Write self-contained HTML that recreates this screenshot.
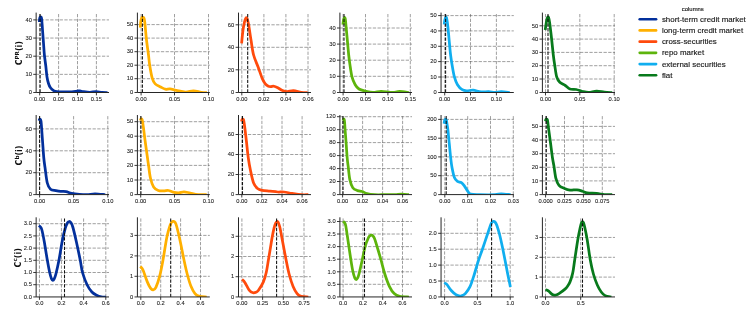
<!DOCTYPE html>
<html lang="en"><head><meta charset="utf-8"><title>KDE grid</title><style>
html,body{margin:0;padding:0;background:#fff;}
body{width:753px;height:320px;overflow:hidden;}
svg{display:block;font-family:"Liberation Sans","DejaVu Sans",sans-serif;}
.g{stroke:#5a5a5a;stroke-width:0.58;stroke-dasharray:3.3 1.4;fill:none;}
.v{stroke:#111;stroke-width:1.05;stroke-dasharray:3.3 1.4;fill:none;}
.s{stroke:#262626;stroke-width:1;fill:none;}
.t{stroke:#222;stroke-width:0.9;}
.xl{font-size:5.75px;fill:#1a1a1a;stroke:#1a1a1a;stroke-width:0.08;text-anchor:middle;}
.yl{font-size:5.75px;fill:#1a1a1a;stroke:#1a1a1a;stroke-width:0.08;text-anchor:end;}
.lab{font-family:'DejaVu Sans',sans-serif;font-size:8px;font-weight:bold;fill:#111;}
.lt{font-size:5.9px;fill:#1a1a1a;stroke:#1a1a1a;stroke-width:0.15;}
.ll{font-size:7.92px;fill:#1a1a1a;stroke:#1a1a1a;stroke-width:0.15;}
</style></head><body>
<svg width="753" height="320" viewBox="0 0 753 320">
<rect width="753" height="320" fill="#fff"/>
<g><line x1="39.70" y1="92.50" x2="39.70" y2="12.60" class="g"/><line x1="58.60" y1="92.50" x2="58.60" y2="12.60" class="g"/><line x1="77.50" y1="92.50" x2="77.50" y2="12.60" class="g"/><line x1="96.40" y1="92.50" x2="96.40" y2="12.60" class="g"/><line x1="36.15" y1="74.35" x2="109.00" y2="74.35" class="g"/><line x1="36.15" y1="56.20" x2="109.00" y2="56.20" class="g"/><line x1="36.15" y1="38.05" x2="109.00" y2="38.05" class="g"/><line x1="36.15" y1="19.90" x2="109.00" y2="19.90" class="g"/><clipPath id="c00"><rect x="36.15" y="12.60" width="72.85" height="79.90"/></clipPath><path d="M39.40 22.00 C39.43 21.50 39.47 19.82 39.60 19.00 C39.73 18.18 39.97 17.43 40.20 17.10 C40.43 16.77 40.77 16.75 41.00 17.00 C41.23 17.25 41.42 17.43 41.60 18.60 C41.78 19.77 41.93 21.93 42.10 24.00 C42.27 26.07 42.37 27.83 42.60 31.00 C42.83 34.17 43.20 39.00 43.50 43.00 C43.80 47.00 44.02 51.17 44.40 55.00 C44.78 58.83 45.37 62.33 45.80 66.00 C46.23 69.67 46.55 74.08 47.00 77.00 C47.45 79.92 47.92 81.70 48.50 83.50 C49.08 85.30 49.65 86.62 50.50 87.80 C51.35 88.98 52.52 89.95 53.60 90.60 C54.68 91.25 55.10 91.45 57.00 91.68 C58.90 91.90 62.50 91.94 65.00 91.97 C67.50 92.01 69.92 92.04 72.00 91.88 C74.08 91.71 76.17 91.16 77.50 91.00 C78.83 90.84 79.00 90.79 80.00 90.90 C81.00 91.01 81.83 91.45 83.50 91.68 C85.17 91.90 87.92 92.28 90.00 92.28 C92.08 92.28 94.00 91.64 96.00 91.68 C98.00 91.71 100.08 92.32 102.00 92.47 C103.92 92.63 106.58 92.58 107.50 92.60" fill="none" stroke="#03309c" stroke-width="2.75" stroke-linecap="butt" stroke-linejoin="round" clip-path="url(#c00)"/><line x1="40.10" y1="92.50" x2="40.10" y2="12.60" class="v"/><path d="M36.15 12.60 V92.50 H109.00" class="s"/><line x1="39.70" y1="92.50" x2="39.70" y2="95.40" class="t"/><text x="39.70" y="100.90" class="xl">0.00</text><line x1="58.60" y1="92.50" x2="58.60" y2="95.40" class="t"/><text x="58.60" y="100.90" class="xl">0.05</text><line x1="77.50" y1="92.50" x2="77.50" y2="95.40" class="t"/><text x="77.50" y="100.90" class="xl">0.10</text><line x1="96.40" y1="92.50" x2="96.40" y2="95.40" class="t"/><text x="96.40" y="100.90" class="xl">0.15</text><line x1="33.25" y1="92.50" x2="36.15" y2="92.50" class="t"/><text x="31.85" y="94.25" class="yl">0</text><line x1="33.25" y1="74.35" x2="36.15" y2="74.35" class="t"/><text x="31.85" y="76.10" class="yl">10</text><line x1="33.25" y1="56.20" x2="36.15" y2="56.20" class="t"/><text x="31.85" y="57.95" class="yl">20</text><line x1="33.25" y1="38.05" x2="36.15" y2="38.05" class="t"/><text x="31.85" y="39.80" class="yl">30</text><line x1="33.25" y1="19.90" x2="36.15" y2="19.90" class="t"/><text x="31.85" y="21.65" class="yl">40</text></g>
<g><line x1="141.10" y1="92.50" x2="141.10" y2="12.60" class="g"/><line x1="174.50" y1="92.50" x2="174.50" y2="12.60" class="g"/><line x1="208.50" y1="92.50" x2="208.50" y2="12.60" class="g"/><line x1="137.40" y1="78.70" x2="209.80" y2="78.70" class="g"/><line x1="137.40" y1="65.20" x2="209.80" y2="65.20" class="g"/><line x1="137.40" y1="51.70" x2="209.80" y2="51.70" class="g"/><line x1="137.40" y1="38.10" x2="209.80" y2="38.10" class="g"/><line x1="137.40" y1="24.60" x2="209.80" y2="24.60" class="g"/><clipPath id="c01"><rect x="137.40" y="12.60" width="72.40" height="79.90"/></clipPath><path d="M140.30 27.70 C140.37 26.75 140.47 23.63 140.70 22.00 C140.93 20.37 141.35 18.73 141.70 17.90 C142.05 17.07 142.43 16.98 142.80 17.00 C143.17 17.02 143.57 17.08 143.90 18.00 C144.23 18.92 144.37 18.83 144.80 22.50 C145.23 26.17 145.88 34.58 146.50 40.00 C147.12 45.42 147.97 50.80 148.50 55.00 C149.03 59.20 149.07 61.30 149.70 65.20 C150.33 69.10 151.38 75.28 152.30 78.40 C153.22 81.52 153.82 82.47 155.20 83.90 C156.58 85.33 158.92 86.12 160.60 87.00 C162.28 87.88 163.73 88.88 165.30 89.20 C166.87 89.52 168.18 88.72 170.00 88.90 C171.82 89.08 173.65 89.77 176.25 90.30 C178.85 90.83 182.74 91.99 185.60 92.07 C188.46 92.16 190.79 90.77 193.40 90.80 C196.01 90.83 199.00 91.98 201.25 92.28 C203.50 92.58 205.96 92.55 206.90 92.60" fill="none" stroke="#ffb000" stroke-width="2.75" stroke-linecap="butt" stroke-linejoin="round" clip-path="url(#c01)"/><line x1="142.40" y1="92.50" x2="142.40" y2="12.60" class="v"/><path d="M137.40 12.60 V92.50 H209.80" class="s"/><line x1="141.10" y1="92.50" x2="141.10" y2="95.40" class="t"/><text x="141.10" y="100.90" class="xl">0.00</text><line x1="174.50" y1="92.50" x2="174.50" y2="95.40" class="t"/><text x="174.50" y="100.90" class="xl">0.05</text><line x1="208.50" y1="92.50" x2="208.50" y2="95.40" class="t"/><text x="208.50" y="100.90" class="xl">0.10</text><line x1="134.50" y1="92.50" x2="137.40" y2="92.50" class="t"/><text x="133.10" y="94.25" class="yl">0</text><line x1="134.50" y1="78.70" x2="137.40" y2="78.70" class="t"/><text x="133.10" y="80.45" class="yl">10</text><line x1="134.50" y1="65.20" x2="137.40" y2="65.20" class="t"/><text x="133.10" y="66.95" class="yl">20</text><line x1="134.50" y1="51.70" x2="137.40" y2="51.70" class="t"/><text x="133.10" y="53.45" class="yl">30</text><line x1="134.50" y1="38.10" x2="137.40" y2="38.10" class="t"/><text x="133.10" y="39.85" class="yl">40</text><line x1="134.50" y1="24.60" x2="137.40" y2="24.60" class="t"/><text x="133.10" y="26.35" class="yl">50</text></g>
<g><line x1="241.80" y1="92.50" x2="241.80" y2="12.60" class="g"/><line x1="263.90" y1="92.50" x2="263.90" y2="12.60" class="g"/><line x1="285.90" y1="92.50" x2="285.90" y2="12.60" class="g"/><line x1="308.00" y1="92.50" x2="308.00" y2="12.60" class="g"/><line x1="238.50" y1="69.80" x2="311.00" y2="69.80" class="g"/><line x1="238.50" y1="47.30" x2="311.00" y2="47.30" class="g"/><line x1="238.50" y1="24.80" x2="311.00" y2="24.80" class="g"/><clipPath id="c02"><rect x="238.50" y="12.60" width="72.50" height="79.90"/></clipPath><path d="M241.60 43.30 C241.83 41.08 242.52 33.55 243.00 30.00 C243.48 26.45 244.03 23.97 244.50 22.00 C244.97 20.03 245.38 18.80 245.80 18.20 C246.22 17.60 246.53 17.35 247.00 18.40 C247.47 19.45 247.93 20.90 248.60 24.50 C249.27 28.10 250.17 34.92 251.00 40.00 C251.83 45.08 252.38 50.42 253.60 55.00 C254.82 59.58 256.87 63.60 258.30 67.50 C259.73 71.40 261.03 75.67 262.20 78.40 C263.37 81.13 264.27 82.59 265.30 83.90 C266.33 85.21 267.45 85.80 268.40 86.25 C269.35 86.70 270.08 86.60 271.00 86.60 C271.92 86.60 272.77 86.05 273.90 86.25 C275.03 86.45 276.37 87.08 277.80 87.80 C279.23 88.52 280.93 89.95 282.50 90.60 C284.07 91.25 285.38 91.68 287.20 91.68 C289.02 91.68 291.06 90.50 293.40 90.60 C295.74 90.70 298.90 91.94 301.25 92.28 C303.60 92.61 306.46 92.55 307.50 92.60" fill="none" stroke="#ff4a0c" stroke-width="2.75" stroke-linecap="butt" stroke-linejoin="round" clip-path="url(#c02)"/><line x1="247.70" y1="92.50" x2="247.70" y2="12.60" class="v"/><path d="M238.50 12.60 V92.50 H311.00" class="s"/><line x1="241.80" y1="92.50" x2="241.80" y2="95.40" class="t"/><text x="241.80" y="100.90" class="xl">0.00</text><line x1="263.90" y1="92.50" x2="263.90" y2="95.40" class="t"/><text x="263.90" y="100.90" class="xl">0.02</text><line x1="285.90" y1="92.50" x2="285.90" y2="95.40" class="t"/><text x="285.90" y="100.90" class="xl">0.04</text><line x1="308.00" y1="92.50" x2="308.00" y2="95.40" class="t"/><text x="308.00" y="100.90" class="xl">0.06</text><line x1="235.60" y1="92.50" x2="238.50" y2="92.50" class="t"/><text x="234.20" y="94.25" class="yl">0</text><line x1="235.60" y1="69.80" x2="238.50" y2="69.80" class="t"/><text x="234.20" y="71.55" class="yl">20</text><line x1="235.60" y1="47.30" x2="238.50" y2="47.30" class="t"/><text x="234.20" y="49.05" class="yl">40</text><line x1="235.60" y1="24.80" x2="238.50" y2="24.80" class="t"/><text x="234.20" y="26.55" class="yl">60</text></g>
<g><line x1="343.10" y1="92.50" x2="343.10" y2="12.60" class="g"/><line x1="365.50" y1="92.50" x2="365.50" y2="12.60" class="g"/><line x1="387.90" y1="92.50" x2="387.90" y2="12.60" class="g"/><line x1="410.30" y1="92.50" x2="410.30" y2="12.60" class="g"/><line x1="339.90" y1="76.30" x2="412.00" y2="76.30" class="g"/><line x1="339.90" y1="60.20" x2="412.00" y2="60.20" class="g"/><line x1="339.90" y1="44.10" x2="412.00" y2="44.10" class="g"/><line x1="339.90" y1="28.00" x2="412.00" y2="28.00" class="g"/><clipPath id="c03"><rect x="339.90" y="12.60" width="72.10" height="79.90"/></clipPath><path d="M342.90 24.60 C343.00 23.83 343.25 21.17 343.50 20.00 C343.75 18.83 344.10 17.77 344.40 17.60 C344.70 17.43 345.00 17.27 345.30 19.00 C345.60 20.73 345.83 24.17 346.20 28.00 C346.57 31.83 347.08 37.50 347.50 42.00 C347.92 46.50 348.30 51.27 348.70 55.00 C349.10 58.73 349.35 60.75 349.90 64.40 C350.45 68.05 351.12 73.52 352.00 76.90 C352.88 80.28 354.03 82.68 355.20 84.70 C356.37 86.72 357.32 87.93 359.00 89.00 C360.68 90.07 362.97 90.52 365.30 91.10 C367.63 91.68 370.38 92.45 373.00 92.47 C375.62 92.50 378.38 91.34 381.00 91.28 C383.62 91.21 386.68 91.87 388.75 92.07 C390.82 92.27 391.57 92.57 393.40 92.47 C395.22 92.38 397.10 91.45 399.70 91.47 C402.30 91.50 407.45 92.41 409.00 92.60" fill="none" stroke="#5db40c" stroke-width="2.75" stroke-linecap="butt" stroke-linejoin="round" clip-path="url(#c03)"/><line x1="344.00" y1="92.50" x2="344.00" y2="12.60" class="v"/><path d="M339.90 12.60 V92.50 H412.00" class="s"/><line x1="343.10" y1="92.50" x2="343.10" y2="95.40" class="t"/><text x="343.10" y="100.90" class="xl">0.00</text><line x1="365.50" y1="92.50" x2="365.50" y2="95.40" class="t"/><text x="365.50" y="100.90" class="xl">0.05</text><line x1="387.90" y1="92.50" x2="387.90" y2="95.40" class="t"/><text x="387.90" y="100.90" class="xl">0.10</text><line x1="410.30" y1="92.50" x2="410.30" y2="95.40" class="t"/><text x="410.30" y="100.90" class="xl">0.15</text><line x1="337.00" y1="92.50" x2="339.90" y2="92.50" class="t"/><text x="335.60" y="94.25" class="yl">0</text><line x1="337.00" y1="76.30" x2="339.90" y2="76.30" class="t"/><text x="335.60" y="78.05" class="yl">10</text><line x1="337.00" y1="60.20" x2="339.90" y2="60.20" class="t"/><text x="335.60" y="61.95" class="yl">20</text><line x1="337.00" y1="44.10" x2="339.90" y2="44.10" class="t"/><text x="335.60" y="45.85" class="yl">30</text><line x1="337.00" y1="28.00" x2="339.90" y2="28.00" class="t"/><text x="335.60" y="29.75" class="yl">40</text></g>
<g><line x1="444.70" y1="92.50" x2="444.70" y2="12.60" class="g"/><line x1="470.50" y1="92.50" x2="470.50" y2="12.60" class="g"/><line x1="496.40" y1="92.50" x2="496.40" y2="12.60" class="g"/><line x1="441.05" y1="77.00" x2="513.80" y2="77.00" class="g"/><line x1="441.05" y1="61.60" x2="513.80" y2="61.60" class="g"/><line x1="441.05" y1="46.30" x2="513.80" y2="46.30" class="g"/><line x1="441.05" y1="30.90" x2="513.80" y2="30.90" class="g"/><line x1="441.05" y1="15.60" x2="513.80" y2="15.60" class="g"/><clipPath id="c04"><rect x="441.05" y="12.60" width="72.75" height="79.90"/></clipPath><path d="M444.20 24.50 C444.30 23.75 444.53 21.20 444.80 20.00 C445.07 18.80 445.47 17.47 445.80 17.30 C446.13 17.13 446.43 17.22 446.80 19.00 C447.17 20.78 447.55 23.83 448.00 28.00 C448.45 32.17 449.07 39.50 449.50 44.00 C449.93 48.50 450.18 51.60 450.60 55.00 C451.02 58.40 451.37 60.75 452.00 64.40 C452.63 68.05 453.48 73.52 454.40 76.90 C455.32 80.28 456.20 82.57 457.50 84.70 C458.80 86.83 460.63 88.68 462.20 89.70 C463.77 90.72 465.08 90.72 466.90 90.80 C468.72 90.88 470.75 90.02 473.10 90.20 C475.45 90.38 478.39 91.63 481.00 91.88 C483.61 92.12 486.42 91.58 488.75 91.68 C491.08 91.78 492.92 92.47 495.00 92.47 C497.08 92.47 498.78 91.65 501.25 91.68 C503.72 91.70 508.38 92.45 509.80 92.60" fill="none" stroke="#10aeef" stroke-width="2.75" stroke-linecap="butt" stroke-linejoin="round" clip-path="url(#c04)"/><line x1="445.60" y1="92.50" x2="445.60" y2="12.60" class="v"/><path d="M441.05 12.60 V92.50 H513.80" class="s"/><line x1="444.70" y1="92.50" x2="444.70" y2="95.40" class="t"/><text x="444.70" y="100.90" class="xl">0.00</text><line x1="470.50" y1="92.50" x2="470.50" y2="95.40" class="t"/><text x="470.50" y="100.90" class="xl">0.05</text><line x1="496.40" y1="92.50" x2="496.40" y2="95.40" class="t"/><text x="496.40" y="100.90" class="xl">0.10</text><line x1="438.15" y1="92.50" x2="441.05" y2="92.50" class="t"/><text x="436.75" y="94.25" class="yl">0</text><line x1="438.15" y1="77.00" x2="441.05" y2="77.00" class="t"/><text x="436.75" y="78.75" class="yl">10</text><line x1="438.15" y1="61.60" x2="441.05" y2="61.60" class="t"/><text x="436.75" y="63.35" class="yl">20</text><line x1="438.15" y1="46.30" x2="441.05" y2="46.30" class="t"/><text x="436.75" y="48.05" class="yl">30</text><line x1="438.15" y1="30.90" x2="441.05" y2="30.90" class="t"/><text x="436.75" y="32.65" class="yl">40</text><line x1="438.15" y1="15.60" x2="441.05" y2="15.60" class="t"/><text x="436.75" y="17.35" class="yl">50</text></g>
<g><line x1="545.50" y1="92.50" x2="545.50" y2="12.60" class="g"/><line x1="579.80" y1="92.50" x2="579.80" y2="12.60" class="g"/><line x1="614.20" y1="92.50" x2="614.20" y2="12.60" class="g"/><line x1="542.40" y1="79.00" x2="615.00" y2="79.00" class="g"/><line x1="542.40" y1="65.70" x2="615.00" y2="65.70" class="g"/><line x1="542.40" y1="52.40" x2="615.00" y2="52.40" class="g"/><line x1="542.40" y1="39.10" x2="615.00" y2="39.10" class="g"/><line x1="542.40" y1="25.80" x2="615.00" y2="25.80" class="g"/><clipPath id="c05"><rect x="542.40" y="12.60" width="72.60" height="79.90"/></clipPath><path d="M545.20 30.00 C545.40 28.67 546.02 24.08 546.40 22.00 C546.78 19.92 547.13 18.25 547.50 17.50 C547.87 16.75 548.25 16.67 548.60 17.50 C548.95 18.33 549.12 19.08 549.60 22.50 C550.08 25.92 550.88 32.58 551.50 38.00 C552.12 43.42 552.78 50.60 553.30 55.00 C553.82 59.40 554.03 60.75 554.60 64.40 C555.17 68.05 555.83 73.92 556.70 76.90 C557.57 79.88 558.37 80.87 559.80 82.30 C561.23 83.73 563.60 84.38 565.30 85.50 C567.00 86.62 568.17 88.33 570.00 89.00 C571.83 89.67 574.17 89.09 576.25 89.50 C578.33 89.91 580.42 90.98 582.50 91.47 C584.58 91.97 586.40 92.54 588.75 92.47 C591.10 92.41 593.99 91.17 596.60 91.10 C599.21 91.03 601.80 91.82 604.40 92.07 C607.00 92.32 610.90 92.51 612.20 92.60" fill="none" stroke="#087a1c" stroke-width="2.75" stroke-linecap="butt" stroke-linejoin="round" clip-path="url(#c05)"/><line x1="548.00" y1="92.50" x2="548.00" y2="12.60" class="v"/><path d="M542.40 12.60 V92.50 H615.00" class="s"/><line x1="545.50" y1="92.50" x2="545.50" y2="95.40" class="t"/><text x="545.50" y="100.90" class="xl">0.00</text><line x1="579.80" y1="92.50" x2="579.80" y2="95.40" class="t"/><text x="579.80" y="100.90" class="xl">0.05</text><line x1="614.20" y1="92.50" x2="614.20" y2="95.40" class="t"/><text x="614.20" y="100.90" class="xl">0.10</text><line x1="539.50" y1="92.50" x2="542.40" y2="92.50" class="t"/><text x="538.10" y="94.25" class="yl">0</text><line x1="539.50" y1="79.00" x2="542.40" y2="79.00" class="t"/><text x="538.10" y="80.75" class="yl">10</text><line x1="539.50" y1="65.70" x2="542.40" y2="65.70" class="t"/><text x="538.10" y="67.45" class="yl">20</text><line x1="539.50" y1="52.40" x2="542.40" y2="52.40" class="t"/><text x="538.10" y="54.15" class="yl">30</text><line x1="539.50" y1="39.10" x2="542.40" y2="39.10" class="t"/><text x="538.10" y="40.85" class="yl">40</text><line x1="539.50" y1="25.80" x2="542.40" y2="25.80" class="t"/><text x="538.10" y="27.55" class="yl">50</text></g>
<g><line x1="39.60" y1="194.60" x2="39.60" y2="115.00" class="g"/><line x1="73.60" y1="194.60" x2="73.60" y2="115.00" class="g"/><line x1="107.80" y1="194.60" x2="107.80" y2="115.00" class="g"/><line x1="36.15" y1="172.70" x2="109.00" y2="172.70" class="g"/><line x1="36.15" y1="150.80" x2="109.00" y2="150.80" class="g"/><line x1="36.15" y1="128.90" x2="109.00" y2="128.90" class="g"/><clipPath id="c10"><rect x="36.15" y="115.00" width="72.85" height="79.60"/></clipPath><path d="M39.00 120.80 C39.08 120.57 39.28 119.65 39.50 119.40 C39.72 119.15 40.05 119.00 40.30 119.30 C40.55 119.60 40.78 119.75 41.00 121.20 C41.22 122.65 41.33 124.53 41.60 128.00 C41.87 131.47 42.23 137.00 42.60 142.00 C42.97 147.00 43.40 153.77 43.80 158.00 C44.20 162.23 44.42 163.23 45.00 167.40 C45.58 171.57 46.38 179.36 47.30 183.00 C48.22 186.64 49.07 187.98 50.50 189.25 C51.93 190.52 54.22 190.24 55.90 190.60 C57.58 190.96 58.90 191.23 60.60 191.40 C62.30 191.57 64.27 191.27 66.10 191.60 C67.93 191.93 69.38 192.91 71.60 193.38 C73.82 193.84 76.80 194.15 79.40 194.38 C82.00 194.60 84.60 194.80 87.20 194.70 C89.80 194.60 92.00 193.78 95.00 193.78 C98.00 193.78 103.50 194.55 105.20 194.70" fill="none" stroke="#03309c" stroke-width="2.75" stroke-linecap="butt" stroke-linejoin="round" clip-path="url(#c10)"/><line x1="39.60" y1="194.60" x2="39.60" y2="115.00" class="v"/><path d="M36.15 115.00 V194.60 H109.00" class="s"/><line x1="39.60" y1="194.60" x2="39.60" y2="197.50" class="t"/><text x="39.60" y="203.00" class="xl">0.00</text><line x1="73.60" y1="194.60" x2="73.60" y2="197.50" class="t"/><text x="73.60" y="203.00" class="xl">0.05</text><line x1="107.80" y1="194.60" x2="107.80" y2="197.50" class="t"/><text x="107.80" y="203.00" class="xl">0.10</text><line x1="33.25" y1="194.60" x2="36.15" y2="194.60" class="t"/><text x="31.85" y="196.35" class="yl">0</text><line x1="33.25" y1="172.70" x2="36.15" y2="172.70" class="t"/><text x="31.85" y="174.45" class="yl">20</text><line x1="33.25" y1="150.80" x2="36.15" y2="150.80" class="t"/><text x="31.85" y="152.55" class="yl">40</text><line x1="33.25" y1="128.90" x2="36.15" y2="128.90" class="t"/><text x="31.85" y="130.65" class="yl">60</text></g>
<g><line x1="140.70" y1="194.60" x2="140.70" y2="115.00" class="g"/><line x1="174.50" y1="194.60" x2="174.50" y2="115.00" class="g"/><line x1="208.30" y1="194.60" x2="208.30" y2="115.00" class="g"/><line x1="137.40" y1="180.00" x2="209.80" y2="180.00" class="g"/><line x1="137.40" y1="165.40" x2="209.80" y2="165.40" class="g"/><line x1="137.40" y1="150.80" x2="209.80" y2="150.80" class="g"/><line x1="137.40" y1="136.20" x2="209.80" y2="136.20" class="g"/><line x1="137.40" y1="121.70" x2="209.80" y2="121.70" class="g"/><clipPath id="c11"><rect x="137.40" y="115.00" width="72.40" height="79.60"/></clipPath><path d="M140.50 120.60 C140.55 120.38 140.63 119.58 140.80 119.30 C140.97 119.02 141.27 118.82 141.50 118.90 C141.73 118.98 141.97 118.95 142.20 119.80 C142.43 120.65 142.64 122.30 142.90 124.00 C143.16 125.70 143.40 127.33 143.75 130.00 C144.10 132.67 144.38 135.33 145.00 140.00 C145.62 144.67 146.90 153.70 147.50 158.00 C148.10 162.30 148.10 162.42 148.60 165.80 C149.10 169.18 149.67 174.78 150.50 178.30 C151.33 181.82 152.30 184.87 153.60 186.90 C154.90 188.93 156.61 189.83 158.30 190.50 C159.99 191.17 162.07 190.90 163.75 190.90 C165.43 190.90 166.84 190.30 168.40 190.50 C169.96 190.70 171.40 191.72 173.10 192.10 C174.80 192.48 176.78 192.85 178.60 192.80 C180.42 192.75 182.05 191.75 184.00 191.80 C185.95 191.85 187.95 192.64 190.30 193.10 C192.65 193.56 195.37 194.31 198.10 194.58 C200.83 194.84 205.27 194.68 206.70 194.70" fill="none" stroke="#ffb000" stroke-width="2.75" stroke-linecap="butt" stroke-linejoin="round" clip-path="url(#c11)"/><line x1="140.90" y1="194.60" x2="140.90" y2="115.00" class="v"/><path d="M137.40 115.00 V194.60 H209.80" class="s"/><line x1="140.70" y1="194.60" x2="140.70" y2="197.50" class="t"/><text x="140.70" y="203.00" class="xl">0.00</text><line x1="174.50" y1="194.60" x2="174.50" y2="197.50" class="t"/><text x="174.50" y="203.00" class="xl">0.05</text><line x1="208.30" y1="194.60" x2="208.30" y2="197.50" class="t"/><text x="208.30" y="203.00" class="xl">0.10</text><line x1="134.50" y1="194.60" x2="137.40" y2="194.60" class="t"/><text x="133.10" y="196.35" class="yl">0</text><line x1="134.50" y1="180.00" x2="137.40" y2="180.00" class="t"/><text x="133.10" y="181.75" class="yl">10</text><line x1="134.50" y1="165.40" x2="137.40" y2="165.40" class="t"/><text x="133.10" y="167.15" class="yl">20</text><line x1="134.50" y1="150.80" x2="137.40" y2="150.80" class="t"/><text x="133.10" y="152.55" class="yl">30</text><line x1="134.50" y1="136.20" x2="137.40" y2="136.20" class="t"/><text x="133.10" y="137.95" class="yl">40</text><line x1="134.50" y1="121.70" x2="137.40" y2="121.70" class="t"/><text x="133.10" y="123.45" class="yl">50</text></g>
<g><line x1="241.80" y1="194.60" x2="241.80" y2="115.00" class="g"/><line x1="261.90" y1="194.60" x2="261.90" y2="115.00" class="g"/><line x1="282.00" y1="194.60" x2="282.00" y2="115.00" class="g"/><line x1="302.10" y1="194.60" x2="302.10" y2="115.00" class="g"/><line x1="238.50" y1="174.50" x2="311.00" y2="174.50" class="g"/><line x1="238.50" y1="154.50" x2="311.00" y2="154.50" class="g"/><line x1="238.50" y1="134.50" x2="311.00" y2="134.50" class="g"/><clipPath id="c12"><rect x="238.50" y="115.00" width="72.50" height="79.60"/></clipPath><path d="M241.60 121.40 C241.65 121.13 241.70 120.18 241.90 119.80 C242.10 119.42 242.52 119.08 242.80 119.10 C243.08 119.12 243.35 119.08 243.60 119.90 C243.85 120.72 244.05 122.32 244.30 124.00 C244.55 125.68 244.73 127.00 245.10 130.00 C245.47 133.00 245.97 137.33 246.50 142.00 C247.03 146.67 247.63 153.25 248.30 158.00 C248.97 162.75 249.62 166.33 250.50 170.50 C251.38 174.67 252.43 180.00 253.60 183.00 C254.77 186.00 256.07 187.27 257.50 188.50 C258.93 189.73 260.12 189.95 262.20 190.40 C264.28 190.85 267.40 190.93 270.00 191.20 C272.60 191.47 275.47 191.87 277.80 192.00 C280.13 192.13 281.65 191.77 284.00 192.00 C286.35 192.23 289.02 192.93 291.90 193.38 C294.77 193.83 298.52 194.48 301.25 194.70 C303.98 194.92 307.12 194.70 308.30 194.70" fill="none" stroke="#ff4a0c" stroke-width="2.75" stroke-linecap="butt" stroke-linejoin="round" clip-path="url(#c12)"/><line x1="242.50" y1="194.60" x2="242.50" y2="115.00" class="v"/><path d="M238.50 115.00 V194.60 H311.00" class="s"/><line x1="241.80" y1="194.60" x2="241.80" y2="197.50" class="t"/><text x="241.80" y="203.00" class="xl">0.00</text><line x1="261.90" y1="194.60" x2="261.90" y2="197.50" class="t"/><text x="261.90" y="203.00" class="xl">0.02</text><line x1="282.00" y1="194.60" x2="282.00" y2="197.50" class="t"/><text x="282.00" y="203.00" class="xl">0.04</text><line x1="302.10" y1="194.60" x2="302.10" y2="197.50" class="t"/><text x="302.10" y="203.00" class="xl">0.06</text><line x1="235.60" y1="194.60" x2="238.50" y2="194.60" class="t"/><text x="234.20" y="196.35" class="yl">0</text><line x1="235.60" y1="174.50" x2="238.50" y2="174.50" class="t"/><text x="234.20" y="176.25" class="yl">20</text><line x1="235.60" y1="154.50" x2="238.50" y2="154.50" class="t"/><text x="234.20" y="156.25" class="yl">40</text><line x1="235.60" y1="134.50" x2="238.50" y2="134.50" class="t"/><text x="234.20" y="136.25" class="yl">60</text></g>
<g><line x1="342.60" y1="194.60" x2="342.60" y2="115.00" class="g"/><line x1="362.60" y1="194.60" x2="362.60" y2="115.00" class="g"/><line x1="382.60" y1="194.60" x2="382.60" y2="115.00" class="g"/><line x1="402.60" y1="194.60" x2="402.60" y2="115.00" class="g"/><line x1="339.90" y1="181.50" x2="412.00" y2="181.50" class="g"/><line x1="339.90" y1="168.60" x2="412.00" y2="168.60" class="g"/><line x1="339.90" y1="155.60" x2="412.00" y2="155.60" class="g"/><line x1="339.90" y1="142.60" x2="412.00" y2="142.60" class="g"/><line x1="339.90" y1="129.70" x2="412.00" y2="129.70" class="g"/><line x1="339.90" y1="116.70" x2="412.00" y2="116.70" class="g"/><clipPath id="c13"><rect x="339.90" y="115.00" width="72.10" height="79.60"/></clipPath><path d="M343.20 120.40 C343.23 120.22 343.28 119.53 343.40 119.30 C343.52 119.07 343.73 118.80 343.90 119.00 C344.07 119.20 344.25 119.50 344.40 120.50 C344.55 121.50 344.68 123.42 344.80 125.00 C344.92 126.58 344.92 127.50 345.10 130.00 C345.28 132.50 345.55 135.33 345.90 140.00 C346.25 144.67 346.80 153.43 347.20 158.00 C347.60 162.57 347.85 163.75 348.30 167.40 C348.75 171.05 349.15 176.52 349.90 179.90 C350.65 183.28 351.53 185.92 352.80 187.70 C354.07 189.48 355.93 189.97 357.50 190.60 C359.07 191.23 360.63 191.00 362.20 191.50 C363.77 192.00 364.82 193.04 366.90 193.58 C368.98 194.11 371.58 194.51 374.70 194.70 C377.82 194.89 382.22 194.70 385.60 194.70 C388.98 194.70 392.39 194.79 395.00 194.70 C397.61 194.61 398.92 194.17 401.25 194.17 C403.58 194.17 407.71 194.61 409.00 194.70" fill="none" stroke="#5db40c" stroke-width="2.75" stroke-linecap="butt" stroke-linejoin="round" clip-path="url(#c13)"/><line x1="343.00" y1="194.60" x2="343.00" y2="115.00" class="v"/><path d="M339.90 115.00 V194.60 H412.00" class="s"/><line x1="342.60" y1="194.60" x2="342.60" y2="197.50" class="t"/><text x="342.60" y="203.00" class="xl">0.00</text><line x1="362.60" y1="194.60" x2="362.60" y2="197.50" class="t"/><text x="362.60" y="203.00" class="xl">0.02</text><line x1="382.60" y1="194.60" x2="382.60" y2="197.50" class="t"/><text x="382.60" y="203.00" class="xl">0.04</text><line x1="402.60" y1="194.60" x2="402.60" y2="197.50" class="t"/><text x="402.60" y="203.00" class="xl">0.06</text><line x1="337.00" y1="194.60" x2="339.90" y2="194.60" class="t"/><text x="335.60" y="196.35" class="yl">0</text><line x1="337.00" y1="181.50" x2="339.90" y2="181.50" class="t"/><text x="335.60" y="183.25" class="yl">20</text><line x1="337.00" y1="168.60" x2="339.90" y2="168.60" class="t"/><text x="335.60" y="170.35" class="yl">40</text><line x1="337.00" y1="155.60" x2="339.90" y2="155.60" class="t"/><text x="335.60" y="157.35" class="yl">60</text><line x1="337.00" y1="142.60" x2="339.90" y2="142.60" class="t"/><text x="335.60" y="144.35" class="yl">80</text><line x1="337.00" y1="129.70" x2="339.90" y2="129.70" class="t"/><text x="335.60" y="131.45" class="yl">100</text><line x1="337.00" y1="116.70" x2="339.90" y2="116.70" class="t"/><text x="335.60" y="118.45" class="yl">120</text></g>
<g><line x1="444.80" y1="194.60" x2="444.80" y2="115.00" class="g"/><line x1="467.70" y1="194.60" x2="467.70" y2="115.00" class="g"/><line x1="490.50" y1="194.60" x2="490.50" y2="115.00" class="g"/><line x1="513.30" y1="194.60" x2="513.30" y2="115.00" class="g"/><line x1="441.05" y1="175.70" x2="513.80" y2="175.70" class="g"/><line x1="441.05" y1="156.90" x2="513.80" y2="156.90" class="g"/><line x1="441.05" y1="138.20" x2="513.80" y2="138.20" class="g"/><line x1="441.05" y1="119.40" x2="513.80" y2="119.40" class="g"/><clipPath id="c14"><rect x="441.05" y="115.00" width="72.75" height="79.60"/></clipPath><path d="M444.10 123.80 C444.17 123.30 444.28 121.55 444.50 120.80 C444.72 120.05 445.10 119.43 445.40 119.30 C445.70 119.17 446.03 119.22 446.30 120.00 C446.57 120.78 446.73 122.33 447.00 124.00 C447.27 125.67 447.52 126.67 447.90 130.00 C448.28 133.33 448.83 139.33 449.30 144.00 C449.77 148.67 450.25 154.10 450.70 158.00 C451.15 161.90 451.38 164.15 452.00 167.40 C452.62 170.65 453.48 175.17 454.40 177.50 C455.32 179.83 456.33 180.55 457.50 181.40 C458.67 182.25 460.23 181.82 461.40 182.60 C462.57 183.38 463.45 184.68 464.50 186.10 C465.55 187.52 466.65 189.75 467.70 191.10 C468.75 192.45 468.85 193.57 470.80 194.17 C472.75 194.77 475.37 194.61 479.40 194.70 C483.43 194.79 491.36 194.85 495.00 194.70 C498.64 194.55 498.65 193.78 501.25 193.78 C503.85 193.78 509.04 194.55 510.60 194.70" fill="none" stroke="#10aeef" stroke-width="2.75" stroke-linecap="butt" stroke-linejoin="round" clip-path="url(#c14)"/><line x1="446.20" y1="194.60" x2="446.20" y2="115.00" class="v"/><path d="M441.05 115.00 V194.60 H513.80" class="s"/><line x1="444.80" y1="194.60" x2="444.80" y2="197.50" class="t"/><text x="444.80" y="203.00" class="xl">0.00</text><line x1="467.70" y1="194.60" x2="467.70" y2="197.50" class="t"/><text x="467.70" y="203.00" class="xl">0.01</text><line x1="490.50" y1="194.60" x2="490.50" y2="197.50" class="t"/><text x="490.50" y="203.00" class="xl">0.02</text><line x1="513.30" y1="194.60" x2="513.30" y2="197.50" class="t"/><text x="513.30" y="203.00" class="xl">0.03</text><line x1="438.15" y1="194.60" x2="441.05" y2="194.60" class="t"/><text x="436.75" y="196.35" class="yl">0</text><line x1="438.15" y1="175.70" x2="441.05" y2="175.70" class="t"/><text x="436.75" y="177.45" class="yl">50</text><line x1="438.15" y1="156.90" x2="441.05" y2="156.90" class="t"/><text x="436.75" y="158.65" class="yl">100</text><line x1="438.15" y1="138.20" x2="441.05" y2="138.20" class="t"/><text x="436.75" y="139.95" class="yl">150</text><line x1="438.15" y1="119.40" x2="441.05" y2="119.40" class="t"/><text x="436.75" y="121.15" class="yl">200</text></g>
<g><line x1="545.60" y1="194.60" x2="545.60" y2="115.00" class="g"/><line x1="564.50" y1="194.60" x2="564.50" y2="115.00" class="g"/><line x1="583.40" y1="194.60" x2="583.40" y2="115.00" class="g"/><line x1="602.30" y1="194.60" x2="602.30" y2="115.00" class="g"/><line x1="542.40" y1="180.90" x2="615.00" y2="180.90" class="g"/><line x1="542.40" y1="167.30" x2="615.00" y2="167.30" class="g"/><line x1="542.40" y1="153.70" x2="615.00" y2="153.70" class="g"/><line x1="542.40" y1="140.00" x2="615.00" y2="140.00" class="g"/><line x1="542.40" y1="126.40" x2="615.00" y2="126.40" class="g"/><clipPath id="c15"><rect x="542.40" y="115.00" width="72.60" height="79.60"/></clipPath><path d="M545.50 121.30 C545.55 121.02 545.62 119.97 545.80 119.60 C545.98 119.23 546.33 119.05 546.60 119.10 C546.87 119.15 547.17 119.08 547.40 119.90 C547.63 120.72 547.77 122.32 548.00 124.00 C548.23 125.68 548.35 127.00 548.75 130.00 C549.15 133.00 549.77 137.33 550.40 142.00 C551.02 146.67 551.92 154.03 552.50 158.00 C553.08 161.97 553.33 162.42 553.90 165.80 C554.47 169.18 555.05 175.05 555.90 178.30 C556.75 181.55 557.57 183.60 559.00 185.30 C560.43 187.00 562.67 187.70 564.50 188.50 C566.33 189.30 567.92 189.88 570.00 190.10 C572.08 190.32 574.92 189.62 577.00 189.80 C579.08 189.98 580.80 190.68 582.50 191.20 C584.20 191.72 584.85 192.54 587.20 192.90 C589.55 193.26 593.73 193.10 596.60 193.38 C599.47 193.65 601.80 194.35 604.40 194.58 C607.00 194.80 610.90 194.68 612.20 194.70" fill="none" stroke="#087a1c" stroke-width="2.75" stroke-linecap="butt" stroke-linejoin="round" clip-path="url(#c15)"/><line x1="546.30" y1="194.60" x2="546.30" y2="115.00" class="v"/><path d="M542.40 115.00 V194.60 H615.00" class="s"/><line x1="545.60" y1="194.60" x2="545.60" y2="197.50" class="t"/><text x="545.60" y="203.00" class="xl">0.000</text><line x1="564.50" y1="194.60" x2="564.50" y2="197.50" class="t"/><text x="564.50" y="203.00" class="xl">0.025</text><line x1="583.40" y1="194.60" x2="583.40" y2="197.50" class="t"/><text x="583.40" y="203.00" class="xl">0.050</text><line x1="602.30" y1="194.60" x2="602.30" y2="197.50" class="t"/><text x="602.30" y="203.00" class="xl">0.075</text><line x1="539.50" y1="194.60" x2="542.40" y2="194.60" class="t"/><text x="538.10" y="196.35" class="yl">0</text><line x1="539.50" y1="180.90" x2="542.40" y2="180.90" class="t"/><text x="538.10" y="182.65" class="yl">10</text><line x1="539.50" y1="167.30" x2="542.40" y2="167.30" class="t"/><text x="538.10" y="169.05" class="yl">20</text><line x1="539.50" y1="153.70" x2="542.40" y2="153.70" class="t"/><text x="538.10" y="155.45" class="yl">30</text><line x1="539.50" y1="140.00" x2="542.40" y2="140.00" class="t"/><text x="538.10" y="141.75" class="yl">40</text><line x1="539.50" y1="126.40" x2="542.40" y2="126.40" class="t"/><text x="538.10" y="128.15" class="yl">50</text></g>
<g><line x1="39.45" y1="296.95" x2="39.45" y2="217.30" class="g"/><line x1="61.45" y1="296.95" x2="61.45" y2="217.30" class="g"/><line x1="83.60" y1="296.95" x2="83.60" y2="217.30" class="g"/><line x1="105.80" y1="296.95" x2="105.80" y2="217.30" class="g"/><line x1="36.15" y1="284.70" x2="109.00" y2="284.70" class="g"/><line x1="36.15" y1="272.50" x2="109.00" y2="272.50" class="g"/><line x1="36.15" y1="260.30" x2="109.00" y2="260.30" class="g"/><line x1="36.15" y1="248.10" x2="109.00" y2="248.10" class="g"/><line x1="36.15" y1="235.90" x2="109.00" y2="235.90" class="g"/><line x1="36.15" y1="223.70" x2="109.00" y2="223.70" class="g"/><clipPath id="c20"><rect x="36.15" y="217.30" width="72.85" height="79.65"/></clipPath><path d="M38.90 225.60 C39.17 225.83 40.00 226.27 40.50 227.00 C41.00 227.73 41.28 227.62 41.90 230.00 C42.52 232.38 43.30 236.25 44.20 241.25 C45.10 246.25 46.38 254.79 47.30 260.00 C48.22 265.21 49.00 269.37 49.70 272.50 C50.40 275.63 50.98 277.48 51.50 278.80 C52.02 280.12 52.35 280.37 52.80 280.40 C53.25 280.43 53.68 280.07 54.20 279.00 C54.72 277.93 55.10 277.17 55.90 274.00 C56.70 270.83 57.95 265.46 59.00 260.00 C60.05 254.54 61.15 246.58 62.20 241.25 C63.25 235.92 64.42 231.07 65.30 228.00 C66.18 224.93 66.85 223.88 67.50 222.80 C68.15 221.72 68.65 221.55 69.20 221.50 C69.75 221.45 70.20 221.58 70.80 222.50 C71.40 223.42 71.89 223.88 72.80 227.00 C73.71 230.12 75.02 235.75 76.25 241.25 C77.48 246.75 79.16 254.79 80.20 260.00 C81.24 265.21 81.33 268.33 82.50 272.50 C83.67 276.67 85.63 281.75 87.20 285.00 C88.77 288.25 90.33 290.30 91.90 292.00 C93.47 293.70 95.04 294.40 96.60 295.20 C98.16 296.00 99.70 296.52 101.25 296.82 C102.80 297.13 105.12 297.01 105.90 297.05" fill="none" stroke="#03309c" stroke-width="2.75" stroke-linecap="butt" stroke-linejoin="round" clip-path="url(#c20)"/><line x1="64.50" y1="296.95" x2="64.50" y2="217.30" class="v"/><path d="M36.15 217.30 V296.95 H109.00" class="s"/><line x1="39.45" y1="296.95" x2="39.45" y2="299.85" class="t"/><text x="39.45" y="305.35" class="xl">0.0</text><line x1="61.45" y1="296.95" x2="61.45" y2="299.85" class="t"/><text x="61.45" y="305.35" class="xl">0.2</text><line x1="83.60" y1="296.95" x2="83.60" y2="299.85" class="t"/><text x="83.60" y="305.35" class="xl">0.4</text><line x1="105.80" y1="296.95" x2="105.80" y2="299.85" class="t"/><text x="105.80" y="305.35" class="xl">0.6</text><line x1="33.25" y1="296.95" x2="36.15" y2="296.95" class="t"/><text x="31.85" y="298.70" class="yl">0.0</text><line x1="33.25" y1="284.70" x2="36.15" y2="284.70" class="t"/><text x="31.85" y="286.45" class="yl">0.5</text><line x1="33.25" y1="272.50" x2="36.15" y2="272.50" class="t"/><text x="31.85" y="274.25" class="yl">1.0</text><line x1="33.25" y1="260.30" x2="36.15" y2="260.30" class="t"/><text x="31.85" y="262.05" class="yl">1.5</text><line x1="33.25" y1="248.10" x2="36.15" y2="248.10" class="t"/><text x="31.85" y="249.85" class="yl">2.0</text><line x1="33.25" y1="235.90" x2="36.15" y2="235.90" class="t"/><text x="31.85" y="237.65" class="yl">2.5</text><line x1="33.25" y1="223.70" x2="36.15" y2="223.70" class="t"/><text x="31.85" y="225.45" class="yl">3.0</text></g>
<g><line x1="140.80" y1="296.95" x2="140.80" y2="217.30" class="g"/><line x1="160.70" y1="296.95" x2="160.70" y2="217.30" class="g"/><line x1="180.60" y1="296.95" x2="180.60" y2="217.30" class="g"/><line x1="200.50" y1="296.95" x2="200.50" y2="217.30" class="g"/><line x1="137.40" y1="276.30" x2="209.80" y2="276.30" class="g"/><line x1="137.40" y1="255.90" x2="209.80" y2="255.90" class="g"/><line x1="137.40" y1="235.40" x2="209.80" y2="235.40" class="g"/><clipPath id="c21"><rect x="137.40" y="217.30" width="72.40" height="79.65"/></clipPath><path d="M140.30 266.60 C140.55 266.83 141.28 267.27 141.80 268.00 C142.32 268.73 142.48 268.68 143.40 271.00 C144.32 273.32 146.12 279.05 147.30 281.90 C148.48 284.75 149.53 286.78 150.50 288.10 C151.47 289.42 152.20 289.93 153.10 289.80 C154.00 289.67 154.78 289.67 155.90 287.30 C157.02 284.93 158.62 280.15 159.80 275.60 C160.98 271.05 161.82 266.43 163.00 260.00 C164.18 253.57 165.70 242.83 166.90 237.00 C168.10 231.17 169.35 227.53 170.20 225.00 C171.05 222.47 171.47 222.42 172.00 221.80 C172.53 221.18 172.90 221.22 173.40 221.30 C173.90 221.38 174.45 221.43 175.00 222.30 C175.55 223.17 175.83 223.34 176.70 226.50 C177.57 229.66 178.98 235.67 180.20 241.25 C181.42 246.83 182.83 254.54 184.00 260.00 C185.17 265.46 186.02 269.57 187.20 274.00 C188.38 278.43 189.80 283.33 191.10 286.60 C192.40 289.87 193.57 291.96 195.00 293.60 C196.43 295.24 197.75 295.85 199.70 296.43 C201.65 297.00 205.53 296.95 206.70 297.05" fill="none" stroke="#ffb000" stroke-width="2.75" stroke-linecap="butt" stroke-linejoin="round" clip-path="url(#c21)"/><line x1="170.70" y1="296.95" x2="170.70" y2="217.30" class="v"/><path d="M137.40 217.30 V296.95 H209.80" class="s"/><line x1="140.80" y1="296.95" x2="140.80" y2="299.85" class="t"/><text x="140.80" y="305.35" class="xl">0.0</text><line x1="160.70" y1="296.95" x2="160.70" y2="299.85" class="t"/><text x="160.70" y="305.35" class="xl">0.2</text><line x1="180.60" y1="296.95" x2="180.60" y2="299.85" class="t"/><text x="180.60" y="305.35" class="xl">0.4</text><line x1="200.50" y1="296.95" x2="200.50" y2="299.85" class="t"/><text x="200.50" y="305.35" class="xl">0.6</text><line x1="134.50" y1="296.95" x2="137.40" y2="296.95" class="t"/><text x="133.10" y="298.70" class="yl">0</text><line x1="134.50" y1="276.30" x2="137.40" y2="276.30" class="t"/><text x="133.10" y="278.05" class="yl">1</text><line x1="134.50" y1="255.90" x2="137.40" y2="255.90" class="t"/><text x="133.10" y="257.65" class="yl">2</text><line x1="134.50" y1="235.40" x2="137.40" y2="235.40" class="t"/><text x="133.10" y="237.15" class="yl">3</text></g>
<g><line x1="241.90" y1="296.95" x2="241.90" y2="217.30" class="g"/><line x1="262.60" y1="296.95" x2="262.60" y2="217.30" class="g"/><line x1="283.30" y1="296.95" x2="283.30" y2="217.30" class="g"/><line x1="304.00" y1="296.95" x2="304.00" y2="217.30" class="g"/><line x1="238.50" y1="276.70" x2="311.00" y2="276.70" class="g"/><line x1="238.50" y1="256.50" x2="311.00" y2="256.50" class="g"/><line x1="238.50" y1="236.30" x2="311.00" y2="236.30" class="g"/><clipPath id="c22"><rect x="238.50" y="217.30" width="72.50" height="79.65"/></clipPath><path d="M241.90 279.50 C242.15 279.68 242.88 280.07 243.40 280.60 C243.92 281.13 244.08 281.18 245.00 282.70 C245.92 284.22 247.82 288.12 248.90 289.70 C249.98 291.28 250.72 291.68 251.50 292.20 C252.28 292.72 252.88 292.78 253.60 292.80 C254.32 292.82 255.02 292.68 255.80 292.30 C256.58 291.92 257.03 292.23 258.30 290.50 C259.57 288.77 262.07 284.93 263.40 281.90 C264.73 278.87 265.47 275.95 266.30 272.30 C267.13 268.65 267.72 264.05 268.40 260.00 C269.08 255.95 269.77 251.83 270.40 248.00 C271.03 244.17 271.60 240.28 272.20 237.00 C272.80 233.72 273.43 230.58 274.00 228.30 C274.57 226.02 275.10 224.45 275.60 223.30 C276.10 222.15 276.58 221.58 277.00 221.40 C277.42 221.22 277.63 221.27 278.10 222.20 C278.57 223.13 279.07 223.87 279.80 227.00 C280.53 230.13 281.45 235.50 282.50 241.00 C283.55 246.50 285.00 254.50 286.10 260.00 C287.20 265.50 287.93 269.57 289.10 274.00 C290.27 278.43 291.77 283.33 293.10 286.60 C294.43 289.87 295.74 291.96 297.10 293.60 C298.46 295.24 299.38 295.85 301.25 296.43 C303.12 297.00 307.12 296.95 308.30 297.05" fill="none" stroke="#ff4a0c" stroke-width="2.75" stroke-linecap="butt" stroke-linejoin="round" clip-path="url(#c22)"/><line x1="276.60" y1="296.95" x2="276.60" y2="217.30" class="v"/><path d="M238.50 217.30 V296.95 H311.00" class="s"/><line x1="241.90" y1="296.95" x2="241.90" y2="299.85" class="t"/><text x="241.90" y="305.35" class="xl">0.00</text><line x1="262.60" y1="296.95" x2="262.60" y2="299.85" class="t"/><text x="262.60" y="305.35" class="xl">0.25</text><line x1="283.30" y1="296.95" x2="283.30" y2="299.85" class="t"/><text x="283.30" y="305.35" class="xl">0.50</text><line x1="304.00" y1="296.95" x2="304.00" y2="299.85" class="t"/><text x="304.00" y="305.35" class="xl">0.75</text><line x1="235.60" y1="296.95" x2="238.50" y2="296.95" class="t"/><text x="234.20" y="298.70" class="yl">0</text><line x1="235.60" y1="276.70" x2="238.50" y2="276.70" class="t"/><text x="234.20" y="278.45" class="yl">1</text><line x1="235.60" y1="256.50" x2="238.50" y2="256.50" class="t"/><text x="234.20" y="258.25" class="yl">2</text><line x1="235.60" y1="236.30" x2="238.50" y2="236.30" class="t"/><text x="234.20" y="238.05" class="yl">3</text></g>
<g><line x1="343.10" y1="296.95" x2="343.10" y2="217.30" class="g"/><line x1="362.90" y1="296.95" x2="362.90" y2="217.30" class="g"/><line x1="382.70" y1="296.95" x2="382.70" y2="217.30" class="g"/><line x1="402.50" y1="296.95" x2="402.50" y2="217.30" class="g"/><line x1="339.90" y1="284.30" x2="412.00" y2="284.30" class="g"/><line x1="339.90" y1="271.80" x2="412.00" y2="271.80" class="g"/><line x1="339.90" y1="259.20" x2="412.00" y2="259.20" class="g"/><line x1="339.90" y1="246.60" x2="412.00" y2="246.60" class="g"/><line x1="339.90" y1="234.00" x2="412.00" y2="234.00" class="g"/><line x1="339.90" y1="221.50" x2="412.00" y2="221.50" class="g"/><clipPath id="c23"><rect x="339.90" y="217.30" width="72.10" height="79.65"/></clipPath><path d="M343.10 221.30 C343.35 221.55 344.15 222.02 344.60 222.80 C345.05 223.58 345.22 222.93 345.80 226.00 C346.38 229.07 347.25 235.58 348.10 241.25 C348.95 246.92 350.12 255.04 350.90 260.00 C351.68 264.96 352.15 268.00 352.80 271.00 C353.45 274.00 354.23 276.57 354.80 278.00 C355.38 279.43 355.78 279.60 356.25 279.60 C356.72 279.60 357.14 278.93 357.60 278.00 C358.06 277.07 358.23 277.00 359.00 274.00 C359.77 271.00 361.15 264.67 362.20 260.00 C363.25 255.33 364.27 249.70 365.30 246.00 C366.33 242.30 367.62 239.52 368.40 237.80 C369.18 236.08 369.52 236.15 370.00 235.70 C370.48 235.25 370.78 235.08 371.25 235.10 C371.72 235.12 372.23 235.15 372.80 235.80 C373.38 236.45 373.87 236.80 374.70 239.00 C375.53 241.20 376.75 245.50 377.80 249.00 C378.85 252.50 379.83 255.83 381.00 260.00 C382.17 264.17 383.38 269.57 384.80 274.00 C386.22 278.43 387.93 283.33 389.50 286.60 C391.07 289.87 392.50 291.96 394.20 293.60 C395.90 295.24 397.23 295.85 399.70 296.43 C402.17 297.00 407.45 296.95 409.00 297.05" fill="none" stroke="#5db40c" stroke-width="2.75" stroke-linecap="butt" stroke-linejoin="round" clip-path="url(#c23)"/><line x1="364.50" y1="296.95" x2="364.50" y2="217.30" class="v"/><path d="M339.90 217.30 V296.95 H412.00" class="s"/><line x1="343.10" y1="296.95" x2="343.10" y2="299.85" class="t"/><text x="343.10" y="305.35" class="xl">0.0</text><line x1="362.90" y1="296.95" x2="362.90" y2="299.85" class="t"/><text x="362.90" y="305.35" class="xl">0.2</text><line x1="382.70" y1="296.95" x2="382.70" y2="299.85" class="t"/><text x="382.70" y="305.35" class="xl">0.4</text><line x1="402.50" y1="296.95" x2="402.50" y2="299.85" class="t"/><text x="402.50" y="305.35" class="xl">0.6</text><line x1="337.00" y1="296.95" x2="339.90" y2="296.95" class="t"/><text x="335.60" y="298.70" class="yl">0.0</text><line x1="337.00" y1="284.30" x2="339.90" y2="284.30" class="t"/><text x="335.60" y="286.05" class="yl">0.5</text><line x1="337.00" y1="271.80" x2="339.90" y2="271.80" class="t"/><text x="335.60" y="273.55" class="yl">1.0</text><line x1="337.00" y1="259.20" x2="339.90" y2="259.20" class="t"/><text x="335.60" y="260.95" class="yl">1.5</text><line x1="337.00" y1="246.60" x2="339.90" y2="246.60" class="t"/><text x="335.60" y="248.35" class="yl">2.0</text><line x1="337.00" y1="234.00" x2="339.90" y2="234.00" class="t"/><text x="335.60" y="235.75" class="yl">2.5</text><line x1="337.00" y1="221.50" x2="339.90" y2="221.50" class="t"/><text x="335.60" y="223.25" class="yl">3.0</text></g>
<g><line x1="444.60" y1="296.95" x2="444.60" y2="217.30" class="g"/><line x1="477.40" y1="296.95" x2="477.40" y2="217.30" class="g"/><line x1="510.20" y1="296.95" x2="510.20" y2="217.30" class="g"/><line x1="441.05" y1="281.00" x2="513.80" y2="281.00" class="g"/><line x1="441.05" y1="265.10" x2="513.80" y2="265.10" class="g"/><line x1="441.05" y1="249.20" x2="513.80" y2="249.20" class="g"/><line x1="441.05" y1="233.30" x2="513.80" y2="233.30" class="g"/><clipPath id="c24"><rect x="441.05" y="217.30" width="72.75" height="79.65"/></clipPath><path d="M444.20 282.70 C444.47 282.85 445.28 283.22 445.80 283.60 C446.32 283.98 446.39 283.85 447.30 285.00 C448.21 286.15 449.82 288.88 451.25 290.50 C452.68 292.12 454.69 293.85 455.90 294.70 C457.11 295.55 457.72 295.40 458.50 295.63 C459.28 295.85 459.88 296.10 460.60 296.03 C461.32 295.95 462.02 295.60 462.80 295.20 C463.58 294.80 464.10 295.03 465.30 293.60 C466.50 292.17 468.62 289.43 470.00 286.60 C471.38 283.77 472.57 279.70 473.60 276.60 C474.63 273.50 475.37 270.77 476.20 268.00 C477.03 265.23 477.55 263.17 478.60 260.00 C479.65 256.83 481.07 253.17 482.50 249.00 C483.93 244.83 485.87 238.95 487.20 235.00 C488.53 231.05 489.70 227.42 490.50 225.30 C491.30 223.18 491.52 222.95 492.00 222.30 C492.48 221.65 492.90 221.45 493.40 221.40 C493.90 221.35 494.42 221.32 495.00 222.00 C495.58 222.68 496.12 223.33 496.90 225.50 C497.68 227.67 498.78 231.42 499.70 235.00 C500.62 238.58 501.52 242.83 502.40 247.00 C503.28 251.17 504.13 255.58 505.00 260.00 C505.87 264.42 506.90 270.00 507.60 273.50 C508.30 277.00 508.73 278.77 509.20 281.00 C509.67 283.23 510.20 285.92 510.40 286.90" fill="none" stroke="#10aeef" stroke-width="2.75" stroke-linecap="butt" stroke-linejoin="round" clip-path="url(#c24)"/><line x1="491.60" y1="296.95" x2="491.60" y2="217.30" class="v"/><path d="M441.05 217.30 V296.95 H513.80" class="s"/><line x1="444.60" y1="296.95" x2="444.60" y2="299.85" class="t"/><text x="444.60" y="305.35" class="xl">0.0</text><line x1="477.40" y1="296.95" x2="477.40" y2="299.85" class="t"/><text x="477.40" y="305.35" class="xl">0.5</text><line x1="510.20" y1="296.95" x2="510.20" y2="299.85" class="t"/><text x="510.20" y="305.35" class="xl">1.0</text><line x1="438.15" y1="296.95" x2="441.05" y2="296.95" class="t"/><text x="436.75" y="298.70" class="yl">0.0</text><line x1="438.15" y1="281.00" x2="441.05" y2="281.00" class="t"/><text x="436.75" y="282.75" class="yl">0.5</text><line x1="438.15" y1="265.10" x2="441.05" y2="265.10" class="t"/><text x="436.75" y="266.85" class="yl">1.0</text><line x1="438.15" y1="249.20" x2="441.05" y2="249.20" class="t"/><text x="436.75" y="250.95" class="yl">1.5</text><line x1="438.15" y1="233.30" x2="441.05" y2="233.30" class="t"/><text x="436.75" y="235.05" class="yl">2.0</text></g>
<g><line x1="545.50" y1="296.95" x2="545.50" y2="217.30" class="g"/><line x1="580.70" y1="296.95" x2="580.70" y2="217.30" class="g"/><line x1="542.40" y1="277.10" x2="615.00" y2="277.10" class="g"/><line x1="542.40" y1="257.30" x2="615.00" y2="257.30" class="g"/><line x1="542.40" y1="237.45" x2="615.00" y2="237.45" class="g"/><clipPath id="c25"><rect x="542.40" y="217.30" width="72.60" height="79.65"/></clipPath><path d="M545.50 289.70 C545.78 289.78 546.63 289.94 547.20 290.20 C547.77 290.46 548.18 290.65 548.90 291.25 C549.62 291.85 550.72 293.18 551.50 293.80 C552.28 294.43 552.88 294.80 553.60 295.00 C554.32 295.20 554.90 295.23 555.80 295.00 C556.70 294.77 557.42 294.62 559.00 293.60 C560.58 292.58 563.80 290.23 565.30 288.90 C566.80 287.57 567.22 286.77 568.00 285.60 C568.78 284.43 569.37 283.42 570.00 281.90 C570.63 280.38 571.28 278.32 571.80 276.50 C572.32 274.68 572.62 273.75 573.10 271.00 C573.58 268.25 573.92 265.22 574.70 260.00 C575.48 254.78 576.88 245.12 577.80 239.70 C578.72 234.28 579.57 230.35 580.20 227.50 C580.83 224.65 581.22 223.60 581.60 222.60 C581.98 221.60 582.20 221.50 582.50 221.50 C582.80 221.50 583.02 221.60 583.40 222.60 C583.78 223.60 584.17 224.65 584.80 227.50 C585.43 230.35 586.28 234.28 587.20 239.70 C588.12 245.12 589.27 254.28 590.30 260.00 C591.33 265.72 592.23 269.83 593.40 274.00 C594.57 278.17 595.99 282.00 597.30 285.00 C598.61 288.00 599.93 290.23 601.25 292.00 C602.57 293.77 603.51 294.78 605.20 295.63 C606.89 296.47 610.37 296.81 611.40 297.05" fill="none" stroke="#087a1c" stroke-width="2.75" stroke-linecap="butt" stroke-linejoin="round" clip-path="url(#c25)"/><line x1="582.50" y1="296.95" x2="582.50" y2="217.30" class="v"/><path d="M542.40 217.30 V296.95 H615.00" class="s"/><line x1="545.50" y1="296.95" x2="545.50" y2="299.85" class="t"/><text x="545.50" y="305.35" class="xl">0.0</text><line x1="580.70" y1="296.95" x2="580.70" y2="299.85" class="t"/><text x="580.70" y="305.35" class="xl">0.5</text><line x1="539.50" y1="296.95" x2="542.40" y2="296.95" class="t"/><text x="538.10" y="298.70" class="yl">0</text><line x1="539.50" y1="277.10" x2="542.40" y2="277.10" class="t"/><text x="538.10" y="278.85" class="yl">1</text><line x1="539.50" y1="257.30" x2="542.40" y2="257.30" class="t"/><text x="538.10" y="259.05" class="yl">2</text><line x1="539.50" y1="237.45" x2="542.40" y2="237.45" class="t"/><text x="538.10" y="239.20" class="yl">3</text></g>
<text transform="translate(22.40 53.20) rotate(-90)" class="lab" text-anchor="middle">C<tspan dy="-3.7" font-size="5.6">PR</tspan><tspan dy="3.7">(i)</tspan></text>
<text transform="translate(22.40 155.50) rotate(-90)" class="lab" text-anchor="middle">C<tspan dy="-3.7" font-size="5.6">b</tspan><tspan dy="3.7">(i)</tspan></text>
<text transform="translate(20.60 257.80) rotate(-90)" class="lab" text-anchor="middle">C<tspan dy="-3.7" font-size="5.6">c</tspan><tspan dy="3.7">(i)</tspan></text>
<text x="692.8" y="11.3" class="lt" text-anchor="middle">columns</text>
<line x1="639.7" y1="19.20" x2="656.1" y2="19.20" stroke="#03309c" stroke-width="2.6" stroke-linecap="round"/>
<text x="661.9" y="22.00" class="ll">short-term credit market</text>
<line x1="639.7" y1="30.42" x2="656.1" y2="30.42" stroke="#ffb000" stroke-width="2.6" stroke-linecap="round"/>
<text x="661.9" y="33.15" class="ll">long-term credit market</text>
<line x1="639.7" y1="41.64" x2="656.1" y2="41.64" stroke="#ff4a0c" stroke-width="2.6" stroke-linecap="round"/>
<text x="661.9" y="44.30" class="ll">cross-securities</text>
<line x1="639.7" y1="52.86" x2="656.1" y2="52.86" stroke="#5db40c" stroke-width="2.6" stroke-linecap="round"/>
<text x="661.9" y="55.45" class="ll">repo market</text>
<line x1="639.7" y1="64.08" x2="656.1" y2="64.08" stroke="#10aeef" stroke-width="2.6" stroke-linecap="round"/>
<text x="661.9" y="66.60" class="ll">external securities</text>
<line x1="639.7" y1="75.30" x2="656.1" y2="75.30" stroke="#087a1c" stroke-width="2.6" stroke-linecap="round"/>
<text x="661.9" y="77.75" class="ll">flat</text>
</svg>
</body></html>
